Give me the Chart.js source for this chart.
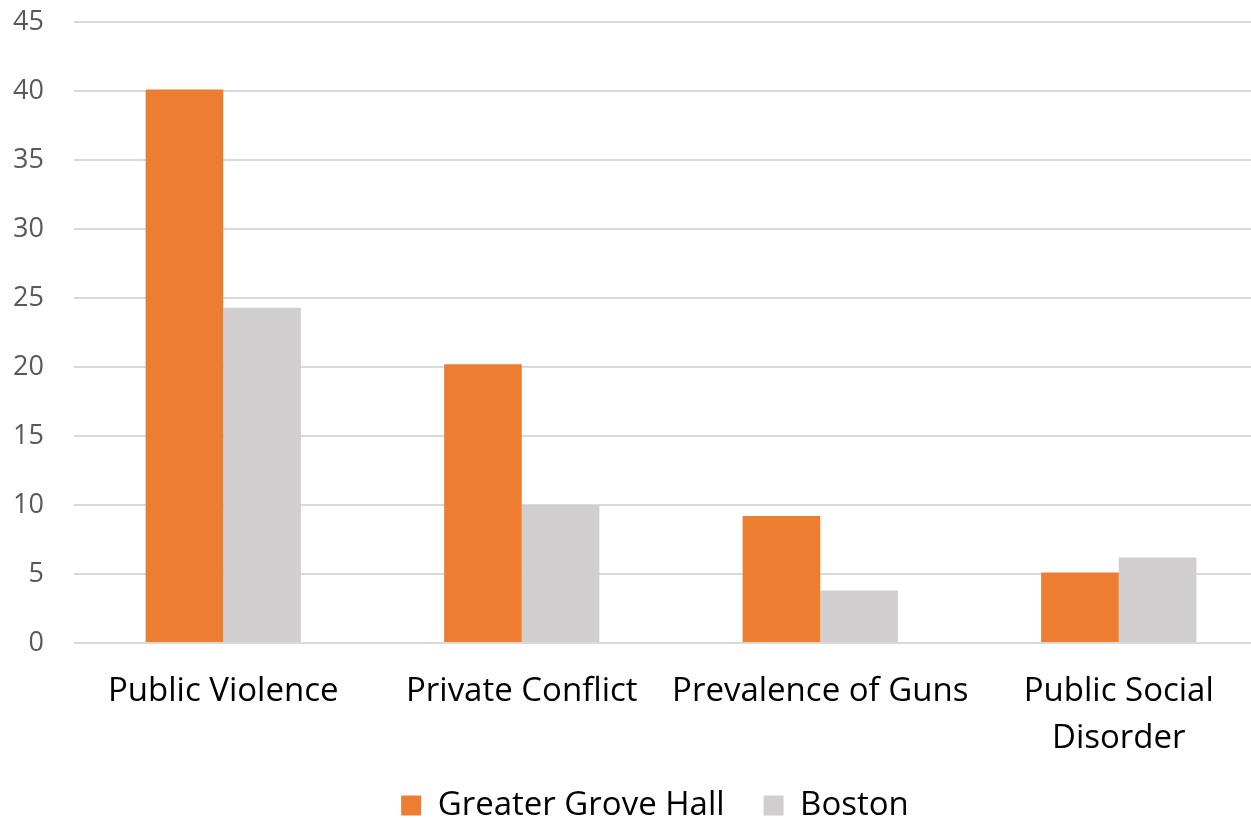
<!DOCTYPE html>
<html>
<head>
<meta charset="utf-8">
<script src="https://cdn.jsdelivr.net/npm/chart.js@4/dist/chart.umd.min.js"></script>
<style>
    html, body { margin: 0; padding: 0; background: #fff; overflow: hidden; }
    #wrap { width: 1268px; height: 832px; }
</style>
</head>
<body>
<div id="wrap"><canvas id="chart"></canvas></div>
<script>
const categories = ["Public Violence", "Private Conflict", "Prevalence of Guns", ["Public Social", "Disorder"]],
    groveHall = [40.1, 20.2, 9.2, 5.1],
    boston = [24.3, 10.0, 3.8, 6.2],
    yTicks = [0, 5, 10, 15, 20, 25, 30, 35, 40, 45];

const font = "'Open Sans', sans-serif";

// legend is centred on the visible part of the page, not the whole canvas
const legendShift = {
    id: "legendShift",
    afterLayout(chart) {
        chart.legend.left += 42;
    }
};

new Chart(document.getElementById("chart"), {
    type: "bar",
    data: {
        labels: categories,
        datasets: [{
            label: "Greater Grove Hall",
            data: groveHall,
            backgroundColor: "#ED7D31",
            categoryPercentage: 0.52,
            barPercentage: 1,
        }, {
            label: "Boston",
            data: boston,
            backgroundColor: "#D0CECE",
            categoryPercentage: 0.52,
            barPercentage: 1,
        }]
    },
    plugins: [legendShift],
    options: {
        responsive: true,
        maintainAspectRatio: false,
        animation: false,
        layout: { padding: { top: 22, left: 0, right: 0, bottom: 0 } },
        plugins: {
            tooltip: { enabled: false },
            legend: {
                position: "bottom",
                labels: {
                    boxWidth: 20,
                    boxHeight: 20,
                    padding: 39,
                    color: "#000",
                    font: { family: font, size: 33 },
                }
            }
        },
        scales: {
            x: {
                grid: { display: false, drawTicks: false },
                border: { display: false },
                ticks: {
                    color: "#000",
                    padding: 25,
                    maxRotation: 0,
                    autoSkip: false,
                    font: { family: font, size: 33, lineHeight: 1.42 },
                },
                afterFit: scale => { scale.height = 107; }
            },
            y: {
                min: 0,
                max: 45,
                afterBuildTicks: scale => {
                    scale.ticks = yTicks.map(v => ({ value: v }));
                },
                grid: { color: "#D9D9D9", lineWidth: 2, drawTicks: false },
                border: { display: false },
                ticks: {
                    color: "#595959",
                    padding: 30,
                    font: { family: font, size: 27 },
                },
                afterFit: scale => {
                    // labels sit beside the axis, no extra room above/below
                    scale.width = 74;
                    scale.paddingTop = 0;
                    scale.paddingBottom = 0;
                }
            }
        }
    }
});
</script>
</body>
</html>
